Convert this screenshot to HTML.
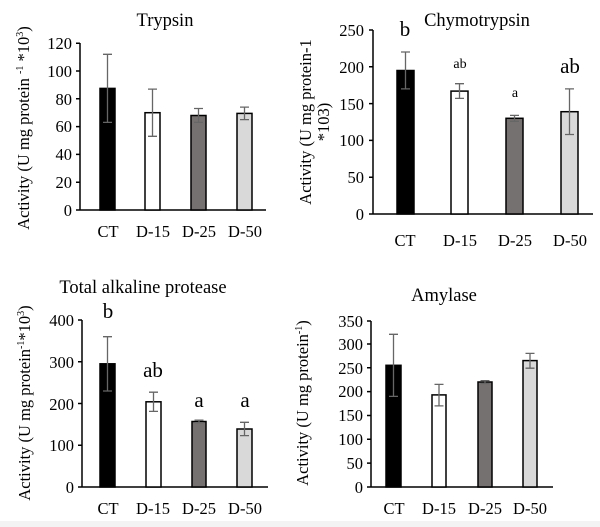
<!DOCTYPE html>
<html><head><meta charset="utf-8"><style>
html,body{margin:0;padding:0;background:#fff}
svg{display:block;font-family:"Liberation Serif",serif;fill:#000}
</style></head><body>
<svg width="600" height="527" viewBox="0 0 600 527" xmlns="http://www.w3.org/2000/svg">
<rect width="600" height="527" fill="#fff"/>
<rect x="0" y="521" width="600" height="6" fill="#f3f3f3"/>
<g font-size="16.5">
<!-- Trypsin -->
<text x="165" y="26" text-anchor="middle" font-size="18.5">Trypsin</text>
<text transform="translate(29,128) rotate(-90)" text-anchor="middle">Activity (U mg protein <tspan font-size="10" dy="-6">-1</tspan><tspan dy="6"> *10</tspan><tspan font-size="10" dy="-6">3</tspan><tspan dy="6">)</tspan></text>
<g text-anchor="end">
<text x="72" y="216">0</text><text x="72" y="188">20</text><text x="72" y="160">40</text><text x="72" y="132">60</text><text x="72" y="105">80</text><text x="72" y="77">100</text><text x="72" y="49">120</text>
</g>
<g stroke="#000" stroke-width="1.5">
<line x1="80" y1="43" x2="80" y2="210"/><line x1="80" y1="210" x2="266" y2="210"/>
<path d="M76 210H80M76 182.2H80M76 154.4H80M76 126.6H80M76 98.8H80M76 71H80M76 43.2H80"/>
</g>
<g stroke="#000" stroke-width="1.5">
<rect x="100" y="88.4" width="15" height="121.6" fill="#000"/>
<rect x="145" y="112.7" width="15" height="97.3" fill="#fff"/>
<rect x="191" y="115.5" width="15" height="94.5" fill="#767171"/>
<rect x="237" y="113.4" width="15" height="96.6" fill="#d9d9d9"/>
</g>
<g stroke="#666" stroke-width="1.3" fill="none">
<path d="M107.5 54.3V122.4M103 54.3H112M103 122.4H112"/>
<path d="M152.5 89.1V136.3M148 89.1H157M148 136.3H157"/>
<path d="M198.5 108.5V122.4M194 108.5H203M194 122.4H203"/>
<path d="M244.5 107.1V119.6M240 107.1H249M240 119.6H249"/>
</g>
<g text-anchor="middle"><text x="108" y="237">CT</text><text x="153" y="237">D-15</text><text x="199" y="237">D-25</text><text x="245" y="237">D-50</text></g>

<!-- Chymotrypsin -->
<text x="477" y="26" text-anchor="middle" font-size="18.5">Chymotrypsin</text>
<text transform="translate(311,122) rotate(-90)" text-anchor="middle">Activity (U mg protein-1</text>
<text transform="translate(329,122) rotate(-90)" text-anchor="middle">*103)</text>
<g text-anchor="end">
<text x="364" y="220">0</text><text x="364" y="183">50</text><text x="364" y="146">100</text><text x="364" y="110">150</text><text x="364" y="73">200</text><text x="364" y="36">250</text>
</g>
<g stroke="#000" stroke-width="1.5">
<line x1="373" y1="30" x2="373" y2="214"/><line x1="373" y1="214" x2="593" y2="214"/>
<path d="M369 214H373M369 177.2H373M369 140.4H373M369 103.6H373M369 66.8H373M369 30H373"/>
<rect x="397" y="70.5" width="17" height="143.5" fill="#000"/>
<rect x="451" y="91.1" width="17" height="122.9" fill="#fff"/>
<rect x="506" y="118.3" width="17" height="95.7" fill="#767171"/>
<rect x="561" y="111.7" width="17" height="102.3" fill="#d9d9d9"/>
</g>
<g stroke="#666" stroke-width="1.3" fill="none">
<path d="M405.5 52V88.9M401 52H410M401 88.9H410"/>
<path d="M459.5 83.7V98.4M455 83.7H464M455 98.4H464"/>
<path d="M514.5 115.4V121.3M510 115.4H519M510 121.3H519"/>
<path d="M569.5 88.9V134.5M565 88.9H574M565 134.5H574"/>
</g>
<g text-anchor="middle">
<text x="405" y="36" font-size="21">b</text>
<text x="460" y="68" font-size="14">ab</text>
<text x="515" y="97" font-size="14">a</text>
<text x="570" y="73" font-size="21">ab</text>
<text x="405" y="246">CT</text><text x="460" y="246">D-15</text><text x="515" y="246">D-25</text><text x="570" y="246">D-50</text>
</g>

<!-- Total alkaline protease -->
<text x="143" y="293" text-anchor="middle" font-size="18.5">Total alkaline protease</text>
<text transform="translate(30,403) rotate(-90)" text-anchor="middle">Activity (U mg protein<tspan font-size="10" dy="-6">-1</tspan><tspan dy="6">*10</tspan><tspan font-size="10" dy="-6">3</tspan><tspan dy="6">)</tspan></text>
<g text-anchor="end">
<text x="74" y="493">0</text><text x="74" y="451">100</text><text x="74" y="410">200</text><text x="74" y="368">300</text><text x="74" y="326">400</text>
</g>
<g stroke="#000" stroke-width="1.5">
<line x1="82" y1="320" x2="82" y2="487"/><line x1="82" y1="487" x2="268" y2="487"/>
<path d="M78 487H82M78 445.3H82M78 403.5H82M78 361.8H82M78 320H82"/>
<rect x="100" y="363.8" width="15" height="123.2" fill="#000"/>
<rect x="146" y="401.8" width="15" height="85.2" fill="#fff"/>
<rect x="192" y="421.5" width="14" height="65.5" fill="#767171"/>
<rect x="237" y="429" width="15" height="58" fill="#d9d9d9"/>
</g>
<g stroke="#666" stroke-width="1.3" fill="none">
<path d="M107.5 336.7V391M103 336.7H112M103 391H112"/>
<path d="M153.5 392.2V411.4M149 392.2H158M149 411.4H158"/>
<path d="M199 420.2V422.7M194.5 420.2H203.5M194.5 422.7H203.5"/>
<path d="M244.5 422.3V435.6M240 422.3H249M240 435.6H249"/>
</g>
<g text-anchor="middle">
<text x="108" y="318" font-size="21">b</text>
<text x="153" y="377" font-size="21">ab</text>
<text x="199" y="407" font-size="21">a</text>
<text x="245" y="407" font-size="21">a</text>
<text x="108" y="514">CT</text><text x="153" y="514">D-15</text><text x="199" y="514">D-25</text><text x="245" y="514">D-50</text>
</g>

<!-- Amylase -->
<text x="444" y="301" text-anchor="middle" font-size="18.5">Amylase</text>
<text transform="translate(308,403) rotate(-90)" text-anchor="middle">Activity (U mg protein<tspan font-size="10" dy="-6">-1</tspan><tspan dy="6">)</tspan></text>
<g text-anchor="end">
<text x="363" y="493">0</text><text x="363" y="469">50</text><text x="363" y="445">100</text><text x="363" y="421">150</text><text x="363" y="397">200</text><text x="363" y="374">250</text><text x="363" y="350">300</text><text x="363" y="327">350</text>
</g>
<g stroke="#000" stroke-width="1.5">
<line x1="371" y1="321" x2="371" y2="487"/><line x1="371" y1="487" x2="553" y2="487"/>
<path d="M367 487H371M367 463.1H371M367 439.3H371M367 415.5H371M367 391.6H371M367 367.8H371M367 344H371M367 321H371"/>
<rect x="386" y="365.3" width="15" height="121.7" fill="#000"/>
<rect x="432" y="394.9" width="14" height="92.1" fill="#fff"/>
<rect x="478" y="382" width="14" height="105" fill="#767171"/>
<rect x="523" y="360.6" width="14" height="126.4" fill="#d9d9d9"/>
</g>
<g stroke="#666" stroke-width="1.3" fill="none">
<path d="M393.5 334.3V396.4M389 334.3H398M389 396.4H398"/>
<path d="M439 384.4V405.9M434.5 384.4H443.5M434.5 405.9H443.5"/>
<path d="M485 380.6V383.5M480.5 380.6H489.5M480.5 383.5H489.5"/>
<path d="M530 353.4V368.2M525.5 353.4H534.5M525.5 368.2H534.5"/>
</g>
<g text-anchor="middle"><text x="394" y="514">CT</text><text x="439" y="514">D-15</text><text x="485" y="514">D-25</text><text x="530" y="514">D-50</text></g>
</g>
</svg>
</body></html>
